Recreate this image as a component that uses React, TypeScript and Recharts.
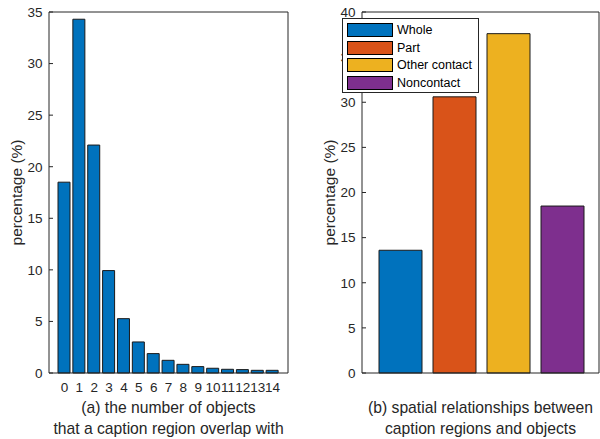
import { BarChart, Bar, XAxis, YAxis, Cell, Legend, Label } from "recharts";

const countCategories = ["0", "1", "2", "3", "4", "5", "6", "7", "8", "9", "10", "11", "12", "13", "14"];
const countValues = [18.5, 34.3, 22.1, 9.93, 5.27, 3.01, 1.88, 1.23, 0.84, 0.62, 0.46, 0.36, 0.33, 0.26, 0.26];
const countTicks = [0, 5, 10, 15, 20, 25, 30, 35];

const relationCategories = ["Whole", "Part", "Other contact", "Noncontact"];
const relationValues = [13.6, 30.6, 37.6, 18.5];
const relationColors = ["#0072BD", "#D95319", "#EDB120", "#7E2F8E"];
const relationTicks = [0, 5, 10, 15, 20, 25, 30, 35, 40];

const captionA = ["(a) the number of objects", "that a caption region overlap with"];
const captionB = ["(b) spatial relationships between", "caption regions and objects"];
const yTitle = "percentage (%)";

const FONT = "'Liberation Sans', Arial, Helvetica, sans-serif";
const AXIS = "#262626";

const countData = countCategories.map((name, i) => ({ name, value: countValues[i] }));
const relationData = relationCategories.map((name, i) => ({ name, value: relationValues[i] }));

const tickStyle = { fill: AXIS, fontSize: 13.5, fontFamily: FONT };

function YTitle({ viewBox }: any) {
  const x = viewBox.x + viewBox.width - 32.5;
  const y = viewBox.y + viewBox.height / 2;
  return (
    <text
      x={x}
      y={y}
      transform={`rotate(-90 ${x} ${y})`}
      textAnchor="middle"
      dominantBaseline="central"
      fontSize={15.5}
      fill={AXIS}
      fontFamily={FONT}
    >
      {yTitle}
    </text>
  );
}

function makeCaption(lines: string[]) {
  return ({ viewBox }: any) => {
    const cx = viewBox.x + viewBox.width / 2;
    return (
      <text textAnchor="middle" fontSize={15.7} fill={AXIS} fontFamily={FONT}>
        {lines.map((line, i) => (
          <tspan key={i} x={cx} y={viewBox.y + 40 + i * 20.5}>
            {line}
          </tspan>
        ))}
      </text>
    );
  };
}

function RelationLegend() {
  return (
    <div
      style={{
        boxSizing: "border-box",
        width: 137,
        height: 75,
        border: `1px solid ${AXIS}`,
        background: "#fff",
        padding: "2px 0 0 4px",
        fontFamily: FONT,
        fontSize: 12.5,
        color: "#000",
      }}
    >
      {relationCategories.map((name, i) => (
        <div key={name} style={{ display: "flex", alignItems: "center", height: 17.7 }}>
          <span
            style={{
              width: 44,
              height: 12,
              background: relationColors[i],
              border: "1px solid #000",
              marginRight: 4,
            }}
          />
          {name}
        </div>
      ))}
    </div>
  );
}

export default function App() {
  return (
    <div style={{ position: "absolute", top: 0, left: 0, width: 600, height: 439, background: "#fff", fontFamily: FONT }}>
      <div style={{ position: "absolute", left: 0, top: 0 }}>
        <BarChart width={300} height={439} data={countData} margin={{ top: 11, right: 11, left: 0, bottom: 46 }}>
          <XAxis
            xAxisId="b"
            dataKey="name"
            height={20}
            interval={0}
            padding={{ left: 8, right: 8 }}
            tick={tickStyle}
            tickLine={false}
            tickSize={0}
            tickMargin={9}
            axisLine={{ stroke: AXIS }}
            label={<Label content={makeCaption(captionA)} />}
          />
          <XAxis
            xAxisId="t"
            orientation="top"
            dataKey="name"
            height={1}
            padding={{ left: 8, right: 8 }}
            tick={false}
            tickLine={false}
            axisLine={{ stroke: AXIS }}
          />
          <YAxis
            yAxisId="l"
            width={49}
            domain={[0, 35]}
            ticks={countTicks}
            tick={tickStyle}
            tickSize={-4}
            tickMargin={10.5}
            tickLine={{ stroke: AXIS }}
            axisLine={{ stroke: AXIS }}
            label={<Label content={YTitle} />}
          />
          <YAxis
            yAxisId="r"
            orientation="right"
            width={1}
            domain={[0, 35]}
            ticks={countTicks}
            tick={false}
            tickSize={-4}
            tickLine={{ stroke: AXIS }}
            axisLine={{ stroke: AXIS }}
          />
          <Bar
            xAxisId="b"
            yAxisId="l"
            dataKey="value"
            fill="#0072BD"
            stroke="#1a1a1a"
            strokeWidth={1}
            barSize={12}
            isAnimationActive={false}
          />
        </BarChart>
      </div>
      <div style={{ position: "absolute", left: 300, top: 0 }}>
        <BarChart width={300} height={439} data={relationData} margin={{ top: 11, right: 0, left: 0, bottom: 46 }}>
          <XAxis
            xAxisId="b"
            dataKey="name"
            height={20}
            padding={{ left: 11, right: 10 }}
            tick={false}
            tickLine={false}
            axisLine={{ stroke: AXIS }}
            label={<Label content={makeCaption(captionB)} />}
          />
          <XAxis
            xAxisId="t"
            orientation="top"
            dataKey="name"
            height={1}
            padding={{ left: 11, right: 10 }}
            tick={false}
            tickLine={false}
            axisLine={{ stroke: AXIS }}
          />
          <YAxis
            yAxisId="l"
            width={62}
            domain={[0, 40]}
            ticks={relationTicks}
            tick={tickStyle}
            tickSize={-4}
            tickMargin={10.5}
            tickLine={{ stroke: AXIS }}
            axisLine={{ stroke: AXIS }}
            label={<Label content={YTitle} />}
          />
          <YAxis
            yAxisId="r"
            orientation="right"
            width={1}
            domain={[0, 40]}
            ticks={relationTicks}
            tick={false}
            tickSize={-4}
            tickLine={{ stroke: AXIS }}
            axisLine={{ stroke: AXIS }}
          />
          <Legend
            layout="vertical"
            align="center"
            verticalAlign="middle"
            content={RelationLegend}
            wrapperStyle={{ left: 42, top: 18, width: 137, height: 75 }}
          />
          <Bar
            xAxisId="b"
            yAxisId="l"
            dataKey="value"
            stroke="#1a1a1a"
            strokeWidth={1}
            barSize={43}
            isAnimationActive={false}
          >
            {relationData.map((d, i) => (
              <Cell key={d.name} fill={relationColors[i]} />
            ))}
          </Bar>
        </BarChart>
      </div>
    </div>
  );
}
